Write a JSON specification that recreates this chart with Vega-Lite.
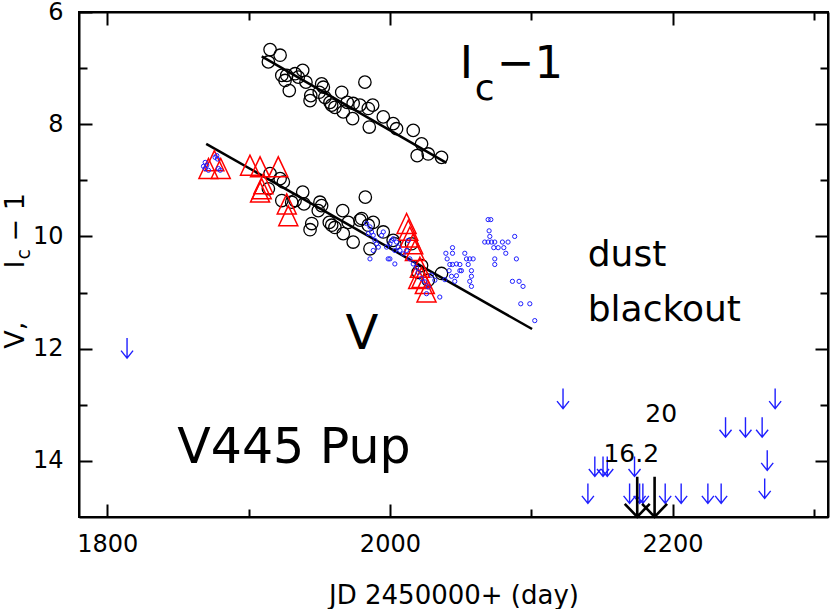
{
  "$schema": "https://vega.github.io/schema/vega-lite/v6.json",
  "width": 749,
  "height": 505,
  "autosize": {"type": "none"},
  "padding": {"left": 79, "top": 12, "right": 2, "bottom": 92},
  "background": "white",
  "config": {
    "view": {"stroke": "black", "strokeWidth": 2},
    "axis": {"grid": false, "domainColor": "black", "domainWidth": 2, "tickColor": "black", "tickWidth": 2, "labelColor": "black", "labelFont": "DejaVu Sans", "labelFontSize": 24, "titleColor": "black"}
  },
  "datasets": {
    "fits": [
      {"band": "I", "jd": 1909.3, "mag": 6.79}, {"band": "I", "jd": 2040.0, "mag": 8.69},
      {"band": "V", "jd": 1870.0, "mag": 8.35}, {"band": "V", "jd": 2100.6, "mag": 11.65}
    ],
    "circles": [
      {"band": "Ic-1", "jd": 1915.2, "mag": 6.67}, {"band": "Ic-1", "jd": 1922.3, "mag": 6.77}, {"band": "Ic-1", "jd": 1914.0, "mag": 6.89},
      {"band": "Ic-1", "jd": 1923.5, "mag": 7.13}, {"band": "Ic-1", "jd": 1927.0, "mag": 7.13}, {"band": "Ic-1", "jd": 1932.9, "mag": 7.10},
      {"band": "Ic-1", "jd": 1938.3, "mag": 7.04}, {"band": "Ic-1", "jd": 1925.8, "mag": 7.22}, {"band": "Ic-1", "jd": 1928.8, "mag": 7.40},
      {"band": "Ic-1", "jd": 1935.2, "mag": 7.16}, {"band": "Ic-1", "jd": 1940.6, "mag": 7.25}, {"band": "Ic-1", "jd": 1943.5, "mag": 7.58},
      {"band": "Ic-1", "jd": 1944.0, "mag": 7.49}, {"band": "Ic-1", "jd": 1951.7, "mag": 7.28}, {"band": "Ic-1", "jd": 1952.9, "mag": 7.34},
      {"band": "Ic-1", "jd": 1950.0, "mag": 7.43}, {"band": "Ic-1", "jd": 1954.0, "mag": 7.52}, {"band": "Ic-1", "jd": 1957.6, "mag": 7.61},
      {"band": "Ic-1", "jd": 1958.8, "mag": 7.66}, {"band": "Ic-1", "jd": 1961.1, "mag": 7.70}, {"band": "Ic-1", "jd": 1965.9, "mag": 7.43},
      {"band": "Ic-1", "jd": 1967.0, "mag": 7.78}, {"band": "Ic-1", "jd": 1969.8, "mag": 7.61}, {"band": "Ic-1", "jd": 1973.6, "mag": 7.90},
      {"band": "Ic-1", "jd": 1974.0, "mag": 7.63}, {"band": "Ic-1", "jd": 1978.8, "mag": 7.66}, {"band": "Ic-1", "jd": 1982.3, "mag": 7.25},
      {"band": "Ic-1", "jd": 1984.7, "mag": 7.72}, {"band": "Ic-1", "jd": 1987.8, "mag": 7.66}, {"band": "Ic-1", "jd": 1985.4, "mag": 8.05},
      {"band": "Ic-1", "jd": 1995.3, "mag": 7.87}, {"band": "Ic-1", "jd": 2002.3, "mag": 7.99}, {"band": "Ic-1", "jd": 2004.7, "mag": 8.08},
      {"band": "Ic-1", "jd": 2016.5, "mag": 8.11}, {"band": "Ic-1", "jd": 2022.4, "mag": 8.35}, {"band": "Ic-1", "jd": 2019.3, "mag": 8.56},
      {"band": "Ic-1", "jd": 2027.1, "mag": 8.53}, {"band": "Ic-1", "jd": 2036.5, "mag": 8.59},
      {"band": "V", "jd": 1915.2, "mag": 8.88}, {"band": "V", "jd": 1922.3, "mag": 8.97}, {"band": "V", "jd": 1914.0, "mag": 9.15},
      {"band": "V", "jd": 1924.6, "mag": 9.03}, {"band": "V", "jd": 1923.5, "mag": 9.36}, {"band": "V", "jd": 1930.5, "mag": 9.39},
      {"band": "V", "jd": 1932.9, "mag": 9.36}, {"band": "V", "jd": 1938.3, "mag": 9.21}, {"band": "V", "jd": 1939.2, "mag": 9.42},
      {"band": "V", "jd": 1943.5, "mag": 9.88}, {"band": "V", "jd": 1944.7, "mag": 9.77}, {"band": "V", "jd": 1950.5, "mag": 9.39},
      {"band": "V", "jd": 1951.7, "mag": 9.45}, {"band": "V", "jd": 1949.3, "mag": 9.54}, {"band": "V", "jd": 1957.1, "mag": 9.75},
      {"band": "V", "jd": 1958.8, "mag": 9.80}, {"band": "V", "jd": 1961.1, "mag": 9.84}, {"band": "V", "jd": 1966.6, "mag": 9.54},
      {"band": "V", "jd": 1967.0, "mag": 9.95}, {"band": "V", "jd": 1970.5, "mag": 9.75}, {"band": "V", "jd": 1974.0, "mag": 10.10},
      {"band": "V", "jd": 1978.8, "mag": 9.71}, {"band": "V", "jd": 1982.6, "mag": 9.30}, {"band": "V", "jd": 1984.7, "mag": 9.80},
      {"band": "V", "jd": 1988.2, "mag": 9.75}, {"band": "V", "jd": 1985.9, "mag": 10.22}, {"band": "V", "jd": 1980.0, "mag": 9.68},
      {"band": "V", "jd": 1995.3, "mag": 9.92}, {"band": "V", "jd": 2002.3, "mag": 10.07}, {"band": "V", "jd": 2003.5, "mag": 10.13},
      {"band": "V", "jd": 2015.3, "mag": 10.13}, {"band": "V", "jd": 2022.4, "mag": 10.52}, {"band": "V", "jd": 2020.0, "mag": 10.64},
      {"band": "V", "jd": 2027.1, "mag": 10.78}, {"band": "V", "jd": 2036.5, "mag": 10.66}
    ],
    "triangles": [
      {"jd": 1875.8, "mag": 8.65}, {"jd": 1871.6, "mag": 8.79}, {"jd": 1880.3, "mag": 8.79}, {"jd": 1901.0, "mag": 8.73},
      {"jd": 1908.1, "mag": 8.76}, {"jd": 1921.0, "mag": 8.76}, {"jd": 1910.5, "mag": 9.06}, {"jd": 1909.3, "mag": 9.15},
      {"jd": 1908.1, "mag": 9.21}, {"jd": 1927.0, "mag": 9.42}, {"jd": 1928.1, "mag": 9.63}, {"jd": 2011.8, "mag": 9.77},
      {"jd": 2013.0, "mag": 9.89}, {"jd": 2014.1, "mag": 10.01}, {"jd": 2016.5, "mag": 10.13}, {"jd": 2017.7, "mag": 10.25},
      {"jd": 2021.2, "mag": 10.55}, {"jd": 2022.4, "mag": 10.73}, {"jd": 2024.7, "mag": 10.84}, {"jd": 2025.9, "mag": 10.99},
      {"jd": 2020.0, "mag": 10.75}
    ],
    "blue": [
      {"jd": 1869.3, "mag": 8.68}, {"jd": 1870.4, "mag": 8.73}, {"jd": 1868.1, "mag": 8.75}, {"jd": 1876.3, "mag": 8.59},
      {"jd": 1877.5, "mag": 8.56}, {"jd": 1878.0, "mag": 8.62}, {"jd": 1869.3, "mag": 8.79}, {"jd": 1871.6, "mag": 8.82},
      {"jd": 1878.7, "mag": 8.79}, {"jd": 1879.9, "mag": 8.82},
      {"jd": 1983.5, "mag": 9.77}, {"jd": 1985.9, "mag": 9.83}, {"jd": 1987.0, "mag": 9.92}, {"jd": 1988.2, "mag": 9.98},
      {"jd": 1984.7, "mag": 9.95}, {"jd": 1989.4, "mag": 10.07}, {"jd": 1990.6, "mag": 10.13}, {"jd": 1991.8, "mag": 10.19},
      {"jd": 1995.3, "mag": 9.92}, {"jd": 1994.1, "mag": 9.98}, {"jd": 1997.6, "mag": 10.19}, {"jd": 2000.0, "mag": 10.13},
      {"jd": 2001.2, "mag": 10.07}, {"jd": 2002.4, "mag": 10.04}, {"jd": 2004.7, "mag": 10.10}, {"jd": 2003.5, "mag": 10.25},
      {"jd": 1998.8, "mag": 10.40}, {"jd": 2000.0, "mag": 10.40}, {"jd": 2003.5, "mag": 10.49}, {"jd": 2005.9, "mag": 10.19},
      {"jd": 2007.1, "mag": 10.25}, {"jd": 2009.4, "mag": 10.31}, {"jd": 2011.8, "mag": 10.25}, {"jd": 2013.0, "mag": 10.07},
      {"jd": 2014.1, "mag": 10.40}, {"jd": 2016.5, "mag": 10.49}, {"jd": 2018.8, "mag": 10.55}, {"jd": 2020.0, "mag": 10.64},
      {"jd": 2022.4, "mag": 10.75}, {"jd": 2024.7, "mag": 10.81}, {"jd": 2027.1, "mag": 10.90}, {"jd": 2025.9, "mag": 11.02},
      {"jd": 2029.4, "mag": 10.69}, {"jd": 2031.8, "mag": 10.78}, {"jd": 2035.3, "mag": 11.08}, {"jd": 1988.2, "mag": 10.25},
      {"jd": 1985.9, "mag": 10.40},
      {"jd": 2039.6, "mag": 10.30}, {"jd": 2044.3, "mag": 10.20}, {"jd": 2044.3, "mag": 10.30}, {"jd": 2040.5, "mag": 10.40},
      {"jd": 2042.4, "mag": 10.50}, {"jd": 2044.3, "mag": 10.50}, {"jd": 2047.1, "mag": 10.49}, {"jd": 2049.5, "mag": 10.50},
      {"jd": 2041.9, "mag": 10.61}, {"jd": 2043.6, "mag": 10.71}, {"jd": 2045.9, "mag": 10.80}, {"jd": 2047.1, "mag": 10.70},
      {"jd": 2049.5, "mag": 10.61}, {"jd": 2050.6, "mag": 10.61}, {"jd": 2053.0, "mag": 10.30}, {"jd": 2054.2, "mag": 10.40},
      {"jd": 2055.4, "mag": 10.50}, {"jd": 2056.5, "mag": 10.40}, {"jd": 2057.7, "mag": 10.61}, {"jd": 2058.9, "mag": 10.40},
      {"jd": 2057.7, "mag": 10.71}, {"jd": 2056.5, "mag": 10.80}, {"jd": 2057.7, "mag": 10.89}, {"jd": 2038.9, "mag": 10.77},
      {"jd": 2069.5, "mag": 9.70}, {"jd": 2071.4, "mag": 9.70}, {"jd": 2070.2, "mag": 9.90}, {"jd": 2070.7, "mag": 10.00},
      {"jd": 2067.1, "mag": 10.10}, {"jd": 2069.5, "mag": 10.10}, {"jd": 2071.9, "mag": 10.10}, {"jd": 2074.2, "mag": 10.10},
      {"jd": 2073.5, "mag": 10.20}, {"jd": 2076.6, "mag": 10.20}, {"jd": 2080.6, "mag": 10.20}, {"jd": 2082.0, "mag": 10.30},
      {"jd": 2079.6, "mag": 10.10}, {"jd": 2083.6, "mag": 10.10}, {"jd": 2088.3, "mag": 10.00}, {"jd": 2074.2, "mag": 10.40},
      {"jd": 2074.2, "mag": 10.50}, {"jd": 2089.5, "mag": 10.40}, {"jd": 2086.7, "mag": 10.80}, {"jd": 2091.4, "mag": 10.80},
      {"jd": 2094.2, "mag": 10.89}, {"jd": 2092.6, "mag": 11.20}, {"jd": 2099.0, "mag": 11.20}, {"jd": 2102.5, "mag": 11.50}
    ],
    "limits": [
      {"jd": 1814.0, "mag": 11.99}, {"jd": 2122.5, "mag": 12.89}, {"jd": 2140.1, "mag": 14.58}, {"jd": 2145.0, "mag": 14.10},
      {"jd": 2150.8, "mag": 14.10}, {"jd": 2153.8, "mag": 14.10}, {"jd": 2173.1, "mag": 14.10}, {"jd": 2169.6, "mag": 14.58},
      {"jd": 2176.7, "mag": 14.58}, {"jd": 2179.0, "mag": 14.58}, {"jd": 2194.8, "mag": 14.58}, {"jd": 2206.1, "mag": 14.58},
      {"jd": 2225.0, "mag": 14.58}, {"jd": 2234.4, "mag": 14.58}, {"jd": 2237.5, "mag": 13.40}, {"jd": 2251.6, "mag": 13.40},
      {"jd": 2263.4, "mag": 13.40}, {"jd": 2272.6, "mag": 12.89}, {"jd": 2267.0, "mag": 13.99}, {"jd": 2265.2, "mag": 14.49}
    ],
    "offscale": [
      {"jd": 2175.0, "mag": 16.2, "arrowMag": 14.64, "label": "16.2", "labelJd": 2170.8, "labelMag": 14.02},
      {"jd": 2187.3, "mag": 20, "arrowMag": 14.64, "label": "20", "labelJd": 2192.0, "labelMag": 13.31}
    ],
    "starName": [{"text": "V445  Pup", "jd": 1849.5, "mag": 14.03}],
    "bandMain": [{"text": "I", "jd": 2049.5, "mag": 7.18}, {"text": "−1", "jd": 2075.6, "mag": 7.18}],
    "bandSub": [{"text": "c", "jd": 2060.1, "mag": 7.56}],
    "bandV": [{"text": "V", "jd": 1980.2, "mag": 12.01}],
    "dust": [{"text": "dust", "jd": 2140.0, "mag": 10.52}, {"text": "blackout", "jd": 2140.0, "mag": 11.5}],
    "yTitle": [{"text": "V,", "jd": 1740.8, "mag": 12.0}, {"text": "I", "jd": 1740.8, "mag": 10.57}, {"text": "−  1", "jd": 1740.8, "mag": 10.09}],
    "yTitleSub": [{"text": "c", "jd": 1745.6, "mag": 10.41}]
  },
  "layer": [
    {
      "data": {"name": "fits"},
      "mark": {"type": "line", "color": "black", "strokeWidth": 2.5},
      "encoding": {
        "x": {"field": "jd", "type": "quantitative", "scale": {"domain": [1780, 2310], "nice": false, "zero": false},
          "axis": {"orient": "bottom", "values": [1800, 2000, 2200], "format": "d", "tickSize": -13, "labelPadding": 28, "labelFlush": false, "labelOverlap": false,
            "title": "JD 2450000+ (day)", "titleFont": "DejaVu Sans", "titleFontSize": 26, "titleFontWeight": "normal", "titleY": 86, "titleBaseline": "alphabetic"}},
        "y": {"field": "mag", "type": "quantitative", "scale": {"domain": [6, 15], "reverse": true, "nice": false, "zero": false},
          "axis": {"orient": "left", "values": [6, 8, 10, 12, 14], "tickSize": -13, "labelPadding": 29, "labelOverlap": false, "title": null}},
        "detail": {"field": "band"}
      }
    },
    {
      "data": {"name": "circles"},
      "mark": {"type": "point", "shape": "circle", "filled": false, "stroke": "black", "strokeWidth": 1.3, "size": 154, "opacity": 1},
      "encoding": {
        "x": {"field": "jd", "type": "quantitative", "scale": {"domain": [1780, 2310], "nice": false, "zero": false},
          "axis": {"orient": "bottom", "values": [1900, 2100, 2300], "tickSize": -8, "labels": false, "domain": false, "title": null}},
        "y": {"field": "mag", "type": "quantitative", "scale": {"domain": [6, 15], "reverse": true, "nice": false, "zero": false},
          "axis": {"orient": "left", "values": [7, 9, 11, 13], "tickSize": -8, "labels": false, "domain": false, "title": null}}
      }
    },
    {
      "data": {"name": "triangles"},
      "mark": {"type": "point", "shape": "M0,-1L-0.95,1L0.95,1Z", "filled": false, "stroke": "#ff0000", "strokeWidth": 1.5, "size": 400, "opacity": 1},
      "encoding": {
        "x": {"field": "jd", "type": "quantitative", "scale": {"domain": [1780, 2310], "nice": false, "zero": false},
          "axis": {"orient": "top", "values": [1800, 2000, 2200], "tickSize": -13, "labels": false, "title": null}},
        "y": {"field": "mag", "type": "quantitative", "scale": {"domain": [6, 15], "reverse": true, "nice": false, "zero": false},
          "axis": {"orient": "right", "values": [6, 8, 10, 12, 14], "tickSize": -13, "labels": false, "title": null}}
      }
    },
    {
      "data": {"name": "blue"},
      "mark": {"type": "point", "shape": "circle", "filled": false, "stroke": "#1f1fff", "strokeWidth": 1, "size": 18, "opacity": 1},
      "encoding": {
        "x": {"field": "jd", "type": "quantitative", "scale": {"domain": [1780, 2310], "nice": false, "zero": false},
          "axis": {"orient": "top", "values": [1900, 2100, 2300], "tickSize": -8, "labels": false, "domain": false, "title": null}},
        "y": {"field": "mag", "type": "quantitative", "scale": {"domain": [6, 15], "reverse": true, "nice": false, "zero": false},
          "axis": {"orient": "right", "values": [7, 9, 11, 13], "tickSize": -8, "labels": false, "domain": false, "title": null}}
      }
    },
    {
      "data": {"name": "limits"},
      "mark": {"type": "point", "shape": "M0,-1L0,1M-0.6,0.25L0,1L0.6,0.25", "filled": false, "stroke": "#1f1fff", "strokeWidth": 1.4, "size": 400, "opacity": 1},
      "encoding": {
        "x": {"field": "jd", "type": "quantitative", "axis": null},
        "y": {"field": "mag", "type": "quantitative", "axis": null}
      }
    },
    {
      "data": {"name": "offscale"},
      "mark": {"type": "point", "shape": "M0,-1L0,1M-0.625,0.35L0,1L0.625,0.35", "filled": false, "stroke": "black", "strokeWidth": 2.6, "size": 1600, "opacity": 1},
      "encoding": {
        "x": {"field": "jd", "type": "quantitative", "axis": null},
        "y": {"field": "arrowMag", "type": "quantitative", "axis": null}
      }
    },
    {
      "data": {"name": "offscale"},
      "mark": {"type": "text", "font": "DejaVu Sans", "fontSize": 25, "align": "center", "baseline": "alphabetic", "color": "black"},
      "encoding": {
        "x": {"field": "labelJd", "type": "quantitative", "axis": null},
        "y": {"field": "labelMag", "type": "quantitative", "axis": null},
        "text": {"field": "label"}
      }
    },
    {
      "data": {"name": "starName"},
      "mark": {"type": "text", "font": "DejaVu Sans", "fontSize": 49, "align": "left", "baseline": "alphabetic", "color": "black"},
      "encoding": {
        "x": {"field": "jd", "type": "quantitative", "axis": null},
        "y": {"field": "mag", "type": "quantitative", "axis": null},
        "text": {"field": "text"}
      }
    },
    {
      "data": {"name": "bandMain"},
      "mark": {"type": "text", "font": "DejaVu Sans", "fontSize": 45, "align": "left", "baseline": "alphabetic", "color": "black"},
      "encoding": {
        "x": {"field": "jd", "type": "quantitative", "axis": null},
        "y": {"field": "mag", "type": "quantitative", "axis": null},
        "text": {"field": "text"}
      }
    },
    {
      "data": {"name": "bandSub"},
      "mark": {"type": "text", "font": "DejaVu Sans", "fontSize": 36, "align": "left", "baseline": "alphabetic", "color": "black"},
      "encoding": {
        "x": {"field": "jd", "type": "quantitative", "axis": null},
        "y": {"field": "mag", "type": "quantitative", "axis": null},
        "text": {"field": "text"}
      }
    },
    {
      "data": {"name": "bandV"},
      "mark": {"type": "text", "font": "DejaVu Sans", "fontSize": 48, "align": "center", "baseline": "alphabetic", "color": "black"},
      "encoding": {
        "x": {"field": "jd", "type": "quantitative", "axis": null},
        "y": {"field": "mag", "type": "quantitative", "axis": null},
        "text": {"field": "text"}
      }
    },
    {
      "data": {"name": "dust"},
      "mark": {"type": "text", "font": "DejaVu Sans", "fontSize": 36, "align": "left", "baseline": "alphabetic", "color": "black"},
      "encoding": {
        "x": {"field": "jd", "type": "quantitative", "axis": null},
        "y": {"field": "mag", "type": "quantitative", "axis": null},
        "text": {"field": "text"}
      }
    },
    {
      "data": {"name": "yTitle"},
      "mark": {"type": "text", "font": "DejaVu Sans", "fontSize": 27, "align": "left", "baseline": "alphabetic", "angle": 270, "color": "black"},
      "encoding": {
        "x": {"field": "jd", "type": "quantitative", "axis": null},
        "y": {"field": "mag", "type": "quantitative", "axis": null},
        "text": {"field": "text"}
      }
    },
    {
      "data": {"name": "yTitleSub"},
      "mark": {"type": "text", "font": "DejaVu Sans", "fontSize": 19, "align": "left", "baseline": "alphabetic", "angle": 270, "color": "black"},
      "encoding": {
        "x": {"field": "jd", "type": "quantitative", "axis": null},
        "y": {"field": "mag", "type": "quantitative", "axis": null},
        "text": {"field": "text"}
      }
    }
  ],
  "resolve": {"axis": {"x": "independent", "y": "independent"}}
}
